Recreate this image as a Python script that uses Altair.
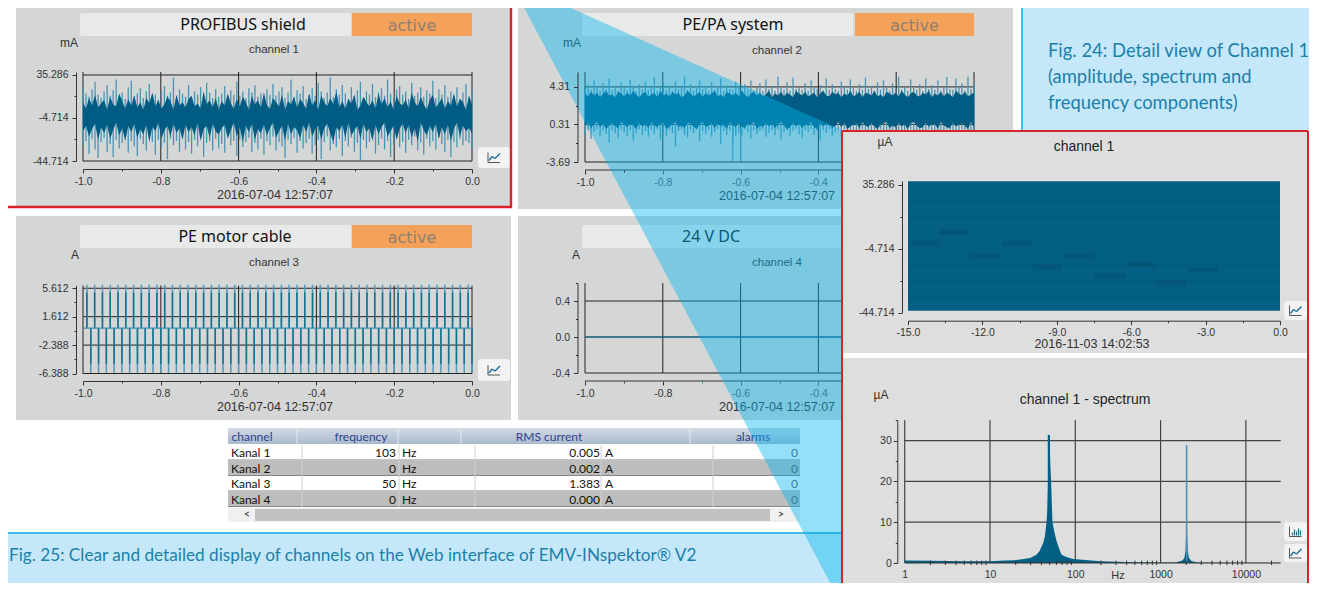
import altair as alt
import pandas as pd

# ---------- values ----------
ch1_hi = [24,18,15,22,29,17,14,20,26,16,21,31,15,19,13,24,30,16,18,23,14,20,27,15,17,12,21,25,16,19,33,14,22,18,15,26,13,20,17,24,16,28,19,14,22,15,18,25,13,21,17,29,16,20,14,23,19,26,15,18,13,22,17,27,16,20,24,14,19,31,15,21,18,25,13,17,23,16,28,20,14,19,33,15,22,17,26,18,13,24,16,21,29,14,20,17,27,15,19,23,16,31,18,14,22,25,17,20,13,28,16,19,24,15,21,18,30,14,22,17,26,15,20,16,24,13,19,27,15,21]
ch1_lo = [-30,-26,-38,-24,-34,-42,-27,-23,-36,-29,-41,-25,-33,-28,-22,-37,-26,-31,-40,-24,-29,-35,-23,-27,-39,-25,-32,-28,-43,-24,-30,-26,-36,-22,-34,-27,-38,-25,-31,-23,-41,-28,-26,-35,-24,-33,-29,-37,-22,-30,-26,-40,-25,-32,-27,-23,-36,-28,-34,-24,-39,-26,-30,-22,-35,-27,-31,-42,-25,-29,-23,-37,-26,-33,-28,-24,-38,-30,-25,-43,-27,-22,-35,-29,-32,-24,-40,-26,-31,-23,-36,-28,-44,-25,-33,-27,-22,-38,-30,-24,-34,-26,-41,-29,-23,-32,-27,-37,-25,-30,-22,-35,-28,-39,-24,-31,-26,-34,-23,-29,-36,-25,-41,-27,-32,-24,-30,-26,-28,-33]
ch1_core_hi = [10,4,14,7,17,5,9,12,3,15,8,6,18,11,4,13,7,16,5,10,3,14,9,19,6,12,4,8,15,11,3,17,7,10,5,13,16,6,9,4,20,8,12,5,14,3,11,7,18,9,4,13,6,15,10,3,16,8,12,5,19,7,4,14,10,6,17,3,11,8,15,5,13,9,4,18,7,12,3,16,10,6,14,8,20,5,11,4,13,9,17,3,7,15,10,6,12,4,18,8,14,5,11,3,16,9,7,13,4,19,10,6,15,8,3,12,17,5,9,14,4,11,7,18,6,13,10,3,16,8]
ch1_core_lo = [-17,-12,-22,-15,-10,-25,-13,-19,-11,-24,-16,-9,-21,-14,-26,-12,-18,-10,-23,-15,-20,-11,-27,-13,-17,-9,-24,-16,-12,-22,-10,-19,-14,-25,-11,-18,-13,-21,-9,-26,-15,-12,-23,-10,-17,-20,-14,-11,-24,-16,-9,-22,-13,-27,-12,-18,-10,-25,-15,-19,-11,-21,-14,-9,-23,-17,-12,-26,-10,-20,-13,-16,-24,-11,-18,-9,-22,-15,-12,-25,-14,-10,-19,-27,-13,-17,-11,-23,-9,-21,-16,-12,-24,-10,-18,-14,-26,-11,-20,-13,-9,-22,-17,-12,-25,-15,-10,-19,-11,-23,-14,-27,-9,-16,-21,-12,-18,-10,-24,-13,-20,-11,-26,-15,-9,-22,-12,-17,-14,-19]

ch2_hi = [4.1,4.6,4.0,5.0,4.2,3.9,4.7,4.1,5.2,4.0,4.4,3.9,4.8,4.2,4.0,5.1,4.3,3.9,4.6,4.1,4.9,4.0,4.3,5.3,3.9,4.2,4.7,4.0,4.5,3.9,4.9,4.1,4.3,5.4,4.0,4.6,3.9,4.2,5.0,4.1,4.4,3.9,4.8,4.0,4.2,5.2,3.9,4.5,4.1,4.0,4.9,4.3,3.9,4.6,4.1,5.0,4.0,4.2,4.7,3.9,5.1,4.1,4.4,3.9,5.4,4.2,4.0,4.8,3.9,5.3,4.1,4.3,4.0,4.7,3.9,5.0,4.2,4.1,4.5,3.9,5.2,4.0,4.6,4.1,3.9,4.9,4.3,4.0,5.1,4.2,3.9,4.6,4.0,5.3,4.1,4.4,3.9,4.8,4.0,5.0,4.2,3.9,4.7,4.1,5.4,4.0,4.3,3.9,5.1,4.2,4.0,4.6,3.9,5.2,4.1,4.5,4.0,5.0,3.9,4.3,5.4,4.1,4.0,5.2,4.2,4.7,3.9,5.4,4.1,4.6]
ch2_lo = [-0.8,-0.3,-1.2,-0.5,-0.2,-1.0,-0.4,-0.7,-1.6,-0.3,-0.6,-1.1,-0.2,-0.5,-0.9,-0.3,-1.4,-0.6,-0.2,-0.8,-0.4,-1.0,-0.3,-0.7,-0.2,-1.3,-0.5,-0.9,-0.3,-0.6,-2.0,-0.4,-0.2,-0.8,-1.1,-0.3,-0.6,-0.2,-1.5,-0.4,-0.7,-0.3,-1.0,-0.5,-0.2,-1.8,-0.4,-0.8,-0.3,-1.6,-0.9,-0.6,-0.9,-0.2,-0.5,-1.2,-0.3,-0.7,-0.4,-0.2,-1.0,-0.6,-0.3,-0.8,-0.2,-1.3,-0.5,-0.3,-0.9,-0.4,-0.2,-0.7,-1.1,-0.3,-0.5,-0.2,-0.8,-0.4,-1.4,-0.3,-0.6,-0.2,-0.9,-0.5,-0.3,-1.0,-0.2,-0.7,-0.4,-0.3,-1.2,-0.5,-0.2,-0.8,-0.3,-0.6,-0.4,-1.1,-0.2,-0.5,-0.3,-0.9,-0.4,-0.2,-0.7,-1.3,-0.3,-0.5,-0.2,-0.8,-0.4,-1.0,-0.3,-0.6,-0.2,-0.5,-0.9,-0.3,-0.4,-1.2,-0.2,-0.6,-0.3,-0.8,-0.4,-0.2,-0.7,-0.3,-1.0,-0.5]
ch2_core_hi = [3.6,3.3,3.8,3.4,3.7,3.2,3.6,3.9,3.4,3.5,3.2,3.8,3.6,3.3,3.7,3.4,3.9,3.5,3.2,3.6,3.8,3.3,3.5,3.7,3.2,3.9,3.4,3.6,3.3,3.8,3.5,3.7,3.2,3.4,3.9,3.6,3.3,3.5,3.8,3.2,3.7,3.4,3.6,3.9,3.3,3.5,3.2,3.8,3.6,3.4,3.7,3.3,3.9,3.5,3.2,3.6,3.8,3.4,3.7,3.3,3.5,3.9,3.2,3.6,3.4,3.8,3.3,3.7,3.5,3.2,3.9,3.6,3.4,3.8,3.3,3.5,3.7,3.2,3.6,3.9,3.4,3.3,3.8,3.5,3.7,3.2,3.6,3.4,3.9,3.3,3.5,3.8,3.2,3.7,3.6,3.4,3.9,3.3,3.5,3.2,3.8,3.6,3.4,3.7,3.3,3.9,3.5,3.2,3.6,3.8,3.4,3.3,3.7,3.5,3.9,3.2,3.6,3.4,3.8,3.3,3.7,3.5,3.2,3.9,3.6,3.4,3.8,3.3,3.5,3.7]
ch2_core_lo = [0.2,0.5,-0.1,0.3,0.6,0.0,0.4,-0.2,0.2,0.5,0.1,-0.1,0.6,0.3,0.0,0.4,0.2,-0.2,0.5,0.1,0.3,-0.1,0.6,0.2,0.0,0.4,0.5,-0.2,0.1,0.3,0.6,0.0,0.2,-0.1,0.5,0.4,0.1,-0.2,0.3,0.6,0.0,0.2,0.5,-0.1,0.4,0.1,0.3,-0.2,0.6,0.2,0.0,0.5,0.1,-0.1,0.4,0.3,0.6,-0.2,0.2,0.0,0.5,0.1,0.4,-0.1,0.3,0.6,0.2,-0.2,0.0,0.5,0.1,0.4,-0.1,0.3,0.2,0.6,0.0,-0.2,0.5,0.1,0.4,0.3,-0.1,0.2,0.6,0.0,0.5,-0.2,0.1,0.3,0.4,-0.1,0.6,0.2,0.0,0.5,0.1,-0.2,0.3,0.4,0.6,-0.1,0.2,0.0,0.5,0.1,0.3,-0.2,0.4,0.6,0.2,-0.1,0.0,0.5,0.1,0.3,0.4,-0.2,0.6,0.2,0.0,-0.1,0.5,0.1,0.3,0.4,0.2,-0.2,0.6,0.0]
ch2_long_t = [-0.62, -0.6]
ch2_long_lo = [-3.6, -3.6]

ch3_up = [-0.99,-0.97,-0.95,-0.93,-0.91,-0.89,-0.87,-0.85,-0.83,-0.81,-0.79,-0.77,-0.75,-0.73,-0.71,-0.69,-0.67,-0.65,-0.63,-0.61,-0.59,-0.57,-0.55,-0.53,-0.51,-0.49,-0.47,-0.45,-0.43,-0.41,-0.39,-0.37,-0.35,-0.33,-0.31,-0.29,-0.27,-0.25,-0.23,-0.21,-0.19,-0.17,-0.15,-0.13,-0.11,-0.09,-0.07,-0.05,-0.03,-0.01]
ch3_down = [-0.98,-0.96,-0.94,-0.92,-0.90,-0.88,-0.86,-0.84,-0.82,-0.80,-0.78,-0.76,-0.74,-0.72,-0.70,-0.68,-0.66,-0.64,-0.62,-0.60,-0.58,-0.56,-0.54,-0.52,-0.50,-0.48,-0.46,-0.44,-0.42,-0.40,-0.38,-0.36,-0.34,-0.32,-0.30,-0.28,-0.26,-0.24,-0.22,-0.20,-0.18,-0.16,-0.14,-0.12,-0.10,-0.08,-0.06,-0.04,-0.02,0.0]

det_start = [-15,-13.72,-12.52,-11.21,-9.96,-8.78,-7.48,-6.2,-5.02,-3.76]
det_end = [-13.75,-12.58,-11.24,-9.99,-8.82,-7.52,-6.23,-5.06,-3.79,-2.51]
det_val = [-1.4,5.7,-9.4,-1.6,-16.3,-9.4,-22,-14.6,-26.2,-18.2]

spec_f = [1,2,5,10,15,20,25,30,35,38,42,44,46,47,48,49,50,51,52,54,57,60,65,69,80,94,120,200,300,500,1000,1500,1800,1900,1960,2000,2020,2040,2080,2150,2300,2600,3000,6000,25600]
spec_a = [0.6,0.55,0.45,0.45,0.6,0.7,0.95,1.3,2.0,2.9,4.9,6.5,10,13,20,26,31.4,24,20,10,7.5,5.5,3.4,2.0,1.4,1.0,0.8,0.45,0.3,0.2,0.12,0.15,0.6,1.2,3,8,28.9,8,3,1.2,0.5,0.2,0.1,0.08,0.05]
spec_minor = [2,3,4,5,6,7,8,9,20,30,40,50,60,70,80,90,200,300,400,500,600,700,800,900,2000,3000,4000,5000,6000,7000,8000,9000,20000]
spec_peak_f = [49, 2020]
spec_peak_a = [31.4, 28.9]

tbl_channel = ["Kanal 1","Kanal 2","Kanal 3","Kanal 4"]
tbl_freq = ["103","0","50","0"]
tbl_rms = ["0.005","0.002","1.383","0.000"]
tbl_alarm = ["0","0","0","0"]

# ---------- helpers ----------
ARIAL = "Liberation Sans"
INK = "#333333"
BLUE = "#005C82"
LIGHT = "#4A94B2"
layers = []
W, H = 1301, 575
OX, OY = 8, 8
RIGHT = OX + W - 1

def rect(x0, y0, x1, y1, color, **kw):
    layers.append(alt.Chart().mark_rect(color=color, **kw).encode(
        x=alt.value(x0-OX), x2=alt.value(x1-OX), y=alt.value(y0-OY), y2=alt.value(y1-OY)))

def seg(x0, y0, x1, y1, color, w=1.0):
    layers.append(alt.Chart().mark_rule(color=color, strokeWidth=w).encode(
        x=alt.value(x0-OX), x2=alt.value(x1-OX), y=alt.value(y0-OY), y2=alt.value(y1-OY)))

def txt(s, x, y, size=12, color=INK, font=ARIAL, align="center", **kw):
    layers.append(alt.Chart().mark_text(text=s, fontSize=size, color=color, font=font, align=align,
                                        baseline="middle", **kw).encode(
        x=alt.value(x-OX), y=alt.value(y-OY)))

def sx(dom, a, b, **kw):
    return alt.Scale(domain=dom, range=[a-OX, b-OX], nice=False, zero=False, **kw)

def sy(dom, bottom, top):
    return alt.Scale(domain=dom, range=[bottom-OY, top-OY], nice=False, zero=False)

def vrules(xs, y0, y1, xsc, ysc, color="#222222", w=1.0, op=1.0):
    d = pd.DataFrame({"x": xs, "y0": [y0]*len(xs), "y1": [y1]*len(xs)})
    layers.append(alt.Chart(d).mark_rule(color=color, strokeWidth=w, opacity=op).encode(
        x=alt.X("x:Q", scale=xsc, axis=None), y=alt.Y("y0:Q", scale=ysc, axis=None), y2="y1:Q"))

def hrules(ys, x0, x1, xsc, ysc, color="#222222", w=1.0, op=1.0):
    d = pd.DataFrame({"y": ys, "x0": [x0]*len(ys), "x1": [x1]*len(ys)})
    layers.append(alt.Chart(d).mark_rule(color=color, strokeWidth=w, opacity=op).encode(
        y=alt.Y("y:Q", scale=ysc, axis=None), x=alt.X("x0:Q", scale=xsc, axis=None), x2="x1:Q"))

def bars(xs, lo, hi, xsc, ysc, color, w):
    d = pd.DataFrame({"x": xs, "lo": lo, "hi": hi})
    layers.append(alt.Chart(d).mark_rule(color=color, strokeWidth=w).encode(
        x=alt.X("x:Q", scale=xsc, axis=None), y=alt.Y("lo:Q", scale=ysc, axis=None), y2="hi:Q"))

def band(xs, lo, hi, xsc, ysc, color):
    d = pd.DataFrame({"x": xs, "lo": lo, "hi": hi})
    layers.append(alt.Chart(d).mark_area(color=color, line=False).encode(
        x=alt.X("x:Q", scale=xsc, axis=None), y=alt.Y("lo:Q", scale=ysc, axis=None), y2="hi:Q"))

def fmt(f):
    return "replace(format(datum.value,'%s'),'\u2212','-')" % f

def axes(xsc, ysc, xv, xmajor, xfmt, yv, ymajor, yfmt, xax_y, yax_x, xtint=None, xdomain=True, size=10.5):
    """x and y axes placed through offsets."""
    xm = "indexof(%s,datum.value)>=0" % [round(v, 6) for v in xmajor]
    ym = "indexof(%s,datum.value)>=0" % [round(v, 6) for v in ymajor]
    lc = alt.expr("datum.value>%s?'#2E7FA0':'%s'" % (xtint, INK)) if xtint is not None else INK
    tc = alt.expr("datum.value>%s?'#2E7FA0':'%s'" % (xtint, INK)) if xtint is not None else INK
    ax = alt.Axis(orient="bottom", offset=xax_y-OY-H, values=xv, title=None, grid=False, domain=xdomain,
                  domainColor=INK, tickColor=tc, tickSize=alt.expr("%s?4:2" % xm), labelPadding=3,
                  labelExpr="%s?%s:''" % (xm, fmt(xfmt)), labelFont=ARIAL, labelFontSize=size,
                  labelColor=lc, labelOverlap=False, labelFlush=False, labelBound=False, zindex=1)
    ay = alt.Axis(orient="left", offset=-(yax_x-OX), values=yv, title=None, grid=False,
                  domainColor=INK, tickColor=INK, tickSize=alt.expr("%s?4:2" % ym), labelPadding=4,
                  labelExpr="%s?%s:''" % (ym, fmt(yfmt)), labelFont=ARIAL, labelFontSize=size,
                  labelColor=INK, labelOverlap=False, labelFlush=False, labelBound=False, zindex=1)
    d = pd.DataFrame({"x": [xsc.domain[0]], "y": [ysc.domain[0]]})
    layers.append(alt.Chart(d).mark_point(opacity=0).encode(
        x=alt.X("x:Q", scale=xsc, axis=ax), y=alt.Y("y:Q", scale=ysc, axis=ay)))

def button(x0, y0, x1, y1, bars_icon=False):
    rect(x0, y0, x1, y1, "#F3F3F3", cornerRadius=3)
    cx, cy = (x0+x1)/2, (y0+y1)/2
    seg(cx-6, cy-5, cx-6, cy+5, "#555555")
    seg(cx-6, cy+5, cx+6, cy+5, "#555555")
    if bars_icon:
        for dx, h in [(-3, 3), (-1, 6), (1, 4), (3, 7), (5, 5)]:
            seg(cx+dx, cy+4, cx+dx, cy+4-h, "#1F6F95", 1.2)
    else:
        seg(cx-5, cy+3, cx-2, cy-1, "#1F6F95", 1.4)
        seg(cx-2, cy-1, cx+1, cy+1, "#1F6F95", 1.4)
        seg(cx+1, cy+1, cx+6, cy-4, "#1F6F95", 1.4)

def header(x0, x1, name, y0, orange_x0=None, orange_x1=None, cx=None):
    rect(x0, y0, x1, y0+23, "#E8E9E9", cornerRadius=2)
    txt(name, cx, y0+12, size=16, color="#111111", font="Noto Sans")
    rect(orange_x0, y0, orange_x1, y0+23, "#F4A259", cornerRadius=1)
    txt("active", (orange_x0+orange_x1)/2, y0+13, size=16, color="#8E7F70", font="DejaVu Sans")

def linspace(a, b, n):
    return [a + (b-a)*i/(n-1) for i in range(n)]

X_MAJ = [-1.0,-0.8,-0.6,-0.4,-0.2,0.0]
X_ALL = [-1.0,-0.9,-0.8,-0.7,-0.6,-0.5,-0.4,-0.3,-0.2,-0.1,0.0]
X_VIS = [-1.0,-0.9,-0.8,-0.7,-0.6,-0.5,-0.4]
DATE1 = "2016-07-04 12:57:07"

# ---------- page ----------
rect(0, 0, 1317, 591, "#C4E8F9")
rect(0, 0, 1021, 532, "#FFFFFF")
seg(0, 533, 1022, 533, "#3EBCEE", 2)
seg(1022, 0, 1022, 533, "#3EBCEE", 2)

# panels
rect(16, 0, 511, 207, "#D5D6D6")
rect(518, 5, 1013, 209, "#D5D6D6")
rect(16, 216, 511, 420, "#D5D6D6")
rect(518, 216, 1013, 420, "#D5D6D6")

# --- channel 1
header(80, 351, "PROFIBUS shield", 13, 352, 472, 243)
txt("mA", 69, 43, 12)
txt("channel 1", 274, 50, 11.5)
txt(DATE1, 275, 195, 12.5)
button(478, 147, 510, 168)
s_x = sx([-1, 0], 83, 472); s_y = sy([-44.714, 38.07], 161, 72)
vrules(X_MAJ, -44.714, 38.07, s_x, s_y)
hrules([35.286, -4.714, -44.714], -1, 0, s_x, s_y)
bars(linspace(-1, 0, len(ch1_hi)), ch1_lo, ch1_hi, s_x, s_y, LIGHT, 1.3)
band(linspace(-1, 0, len(ch1_core_hi)), ch1_core_lo, ch1_core_hi, s_x, s_y, BLUE)
axes(s_x, s_y, X_ALL, X_MAJ, ".1f", [35.286, 15.286, -4.714, -24.714, -44.714], [35.286, -4.714, -44.714], ".3f", 169, 76)

# --- channel 2
header(582, 853, "PE/PA system", 13, 855, 974, 733)
txt("mA", 572, 43, 12)
txt("channel 2", 777, 51, 11.5)
txt(DATE1, 777, 196, 12.5)
s_x = sx([-1, 0], 585, 974); s_y = sy([-3.69, 5.9], 162, 72)
vrules(X_MAJ, -3.69, 5.9, s_x, s_y)
hrules([4.31, 0.31, -3.69], -1, 0, s_x, s_y)
bars(linspace(-1, 0, len(ch2_hi)), ch2_lo, ch2_hi, s_x, s_y, LIGHT, 1.3)
bars(ch2_long_t, ch2_long_lo, [0.0, 0.0], s_x, s_y, LIGHT, 1.2)
band(linspace(-1, 0, len(ch2_core_hi)), ch2_core_lo, ch2_core_hi, s_x, s_y, BLUE)
seg(585, 170, 974, 170, INK)
axes(s_x, s_y, X_VIS, X_MAJ[:4], ".1f", [4.31, 2.31, 0.31, -1.69, -3.69], [4.31, 0.31, -3.69], ".2f", 170, 577.5, xtint=-0.9, xdomain=False)

# --- channel 3
header(80, 351, "PE motor cable", 225, 352, 472, 235)
txt("A", 75, 255, 12)
txt("channel 3", 274, 263, 11.5)
txt(DATE1, 275, 407, 12.5)
button(478, 359, 510, 381)
s_x = sx([-1, 0], 83, 472); s_y = sy([-6.388, 6.0], 373.5, 285.5)
vrules(X_MAJ, -6.388, 6.0, s_x, s_y)
hrules([5.612, 1.612, -2.388, -6.388], -1, 0, s_x, s_y)
bars(ch3_up, [0.0]*50, [6.1]*50, s_x, s_y, "#4D9BB8", 1.5)
bars(ch3_up, [0.0]*50, [5.0]*50, s_x, s_y, "#14708F", 1.5)
bars(ch3_down, [0.0]*50, [-6.3]*50, s_x, s_y, "#4D9BB8", 1.5)
bars(ch3_down, [0.0]*50, [-5.0]*50, s_x, s_y, "#14708F", 1.5)
hrules([0.0], -1, 0, s_x, s_y, color="#3D8FAB", w=1.3)
axes(s_x, s_y, X_ALL, X_MAJ, ".1f", [5.612, 3.612, 1.612, -0.388, -2.388, -4.388, -6.388], [5.612, 1.612, -2.388, -6.388], ".3f", 381, 76)

# --- channel 4
rect(582, 225, 853, 248, "#E8E9E9", cornerRadius=2)
txt("24 V DC", 711, 237, 16, "#111111", "Noto Sans")
txt("A", 576, 255, 12)
txt("channel 4", 777, 263, 11.5)
txt(DATE1, 777, 407, 12.5)
s_x = sx([-1, 0], 585, 974); s_y = sy([-0.4, 0.6], 373, 283)
vrules(X_MAJ, -0.4, 0.6, s_x, s_y)
hrules([0.4, -0.4], -1, 0, s_x, s_y)
hrules([0.0], -1, 0, s_x, s_y, color="#0E5A78", w=1.3)
seg(585, 381, 974, 381, INK)
axes(s_x, s_y, X_VIS, X_MAJ[:4], ".1f", [0.6, 0.4, 0.2, 0.0, -0.2, -0.4], [0.4, 0.0, -0.4], ".1f", 381, 577.5, xtint=-0.72, xdomain=False)

# --- table
TF = "Lato"
HEAD = alt.LinearGradient(gradient="linear", stops=[alt.GradientStop(color="#D3DBE5", offset=0), alt.GradientStop(color="#A9B9CB", offset=1)], x1=0, x2=0, y1=0, y2=1)
rect(228, 428, 800, 444, HEAD)
for hx in [297, 398, 461, 690]:
    seg(hx, 429, hx, 444, "#E3E8EE")
for tx, s in [(252, "channel"), (361, "frequency"), (549, "RMS current"), (753, "alarms")]:
    txt(s, tx, 437, 12, "#2F3F8F", TF)
for i, (c, f, r, a) in enumerate(zip(tbl_channel, tbl_freq, tbl_rms, tbl_alarm)):
    y0 = 445 + i*15.5
    rect(228, y0, 800, y0+15, "#FFFFFF" if i % 2 == 0 else "#BDBDBD")
    seg(228, y0+15, 800, y0+15, "#858585")
    yc = y0 + 8
    txt(c, 231, yc, 12, "#111111", TF, align="left")
    txt(f, 396, yc, 12, "#111111", TF, align="right")
    txt("Hz", 402, yc, 12, "#111111", TF, align="left")
    txt(r, 600, yc, 12, "#111111", TF, align="right")
    txt("A", 605, yc, 12, "#111111", TF, align="left")
    txt(a, 798, yc, 12, "#555555", TF, align="right")
for vx in [302, 399, 475, 601, 713]:
    seg(vx, 445, vx, 507, "#D0D0D0")
rect(228, 508, 800, 522, "#F0F0F0")
rect(255, 509, 770, 521, "#C2C2C2")
txt("<", 247, 515, 11, "#333333", TF)
txt(">", 781, 515, 11, "#333333", TF)

# --- captions
CAP = "#1C7FA8"
txt("Fig. 25: Clear and detailed display of channels on the Web interface of EMV-INspektor® V2", 9, 556, 17.2, CAP, "Lato", align="left")
txt("Fig. 24: Detail view of Channel 1", 1048, 51, 18.4, CAP, "Lato", align="left")
txt("(amplitude, spectrum and", 1048, 77, 18.4, CAP, "Lato", align="left")
txt("frequency components)", 1048, 103, 18.4, CAP, "Lato", align="left")

# --- wedge
wedge = pd.DataFrame({"x": [520, 553, 842], "top": [0, 0, 130], "bottom": [0, 62, 605]})
s_wx = sx([OX, 1317], OX, 1317)
s_wy = alt.Scale(domain=[OY, 591], range=[0, 583], nice=False, zero=False)
layers.append(alt.Chart(wedge).mark_area(color="#00B4F0", opacity=0.42, clip=True).encode(
    x=alt.X("x:Q", scale=s_wx, axis=None), y=alt.Y("top:Q", scale=s_wy, axis=None), y2="bottom:Q"))

# --- inset
rect(842, 132, RIGHT, 591, "#DEDEDE")
rect(843, 353, RIGHT, 358, "#FFFFFF")
seg(842, 131, RIGHT, 131, "#D8232A", 2)
seg(842, 131, 842, 591, "#D8232A", 2)
seg(RIGHT, 131, RIGHT, 591, "#D8232A", 2)
# red frame around panel 1
seg(8, 207, 512, 207, "#D8232A", 2.4)
seg(511, 8, 511, 207, "#D8232A", 2.4)

txt("µA", 885, 142, 12)
txt("channel 1", 1084, 147, 14, "#222222")
txt("2016-11-03 14:02:53", 1092, 344, 12.5)
button(1284, 301, 1307, 320)
s_x = sx([-15, 0], 908, 1280); s_y = sy([-44.714, 37.5], 312.6, 181)
d = pd.DataFrame({"x": [-15], "x2": [0], "y": [-43.6], "y2": [37.3]})
layers.append(alt.Chart(d).mark_rect(color="#045F85").encode(
    x=alt.X("x:Q", scale=s_x, axis=None), x2="x2:Q", y=alt.Y("y:Q", scale=s_y, axis=None), y2="y2:Q"))
d = pd.DataFrame({"x": det_start, "x2": det_end, "y": det_val})
layers.append(alt.Chart(d).mark_rule(color="#04516F", strokeWidth=5, opacity=0.6).encode(
    x=alt.X("x:Q", scale=s_x, axis=None), x2="x2:Q", y=alt.Y("y:Q", scale=s_y, axis=None)))
hrules([25.286, 15.286, 5.286, -14.714, -24.714, -34.714], -15, 0, s_x, s_y, color="#04506F", op=0.3)
axes(s_x, s_y, [-15,-13.5,-12,-10.5,-9,-7.5,-6,-4.5,-3,-1.5,0], [-15,-12,-9,-6,-3,0], ".1f",
     [35.286, 15.286, -4.714, -24.714, -44.714], [35.286, -4.714, -44.714], ".3f", 320.7, 902)

txt("µA", 881, 395, 12)
txt("channel 1 - spectrum", 1085, 400, 14, "#222222")
txt("Hz", 1118, 576, 11)
button(1284, 522, 1307, 541, bars_icon=True)
button(1284, 544, 1307, 562)
s_x = alt.Scale(type="log", domain=[1, 25600], range=[904.7-OX, 1280.7-OX], nice=False)
s_y = sy([0, 35], 563, 420.2)
vrules([1, 10, 100, 1000, 10000], 0, 35, s_x, s_y, color="#444444", w=1.2)
hrules([10, 20, 30], 1, 25600, s_x, s_y, color="#444444", w=1.2)
d = pd.DataFrame({"f": spec_f, "a": spec_a})
layers.append(alt.Chart(d).mark_area(color="#045F85").encode(
    x=alt.X("f:Q", scale=s_x, axis=None), y=alt.Y("a:Q", scale=s_y, axis=None)))
bars(spec_peak_f[:1], [0], spec_peak_a[:1], s_x, s_y, "#045F85", 2.2)
bars(spec_peak_f[1:], [0], spec_peak_a[1:], s_x, s_y, "#4A93B0", 1.6)
d = pd.DataFrame({"f": spec_minor, "a": [-0.5]*len(spec_minor), "b": [0.6]*len(spec_minor)})
layers.append(alt.Chart(d).mark_rule(color="#333333", strokeWidth=1).encode(
    x=alt.X("f:Q", scale=s_x, axis=None), y=alt.Y("a:Q", scale=alt.Scale(domain=[0, 35], range=[563-OY, 420.2-OY], nice=False, zero=False, clamp=False), axis=None), y2="b:Q"))
hrules([0], 1, 25600, s_x, s_y, color="#333333", w=1.2)
ax = alt.Axis(orient="bottom", offset=567-OY-H, values=[1, 10, 100, 1000, 10000], title=None, grid=False, domain=False, ticks=False,
              labelPadding=2, format="d", labelFont=ARIAL, labelFontSize=10.5, labelColor=INK, labelOverlap=False,
              labelFlush=False, labelBound=False, zindex=1)
ay = alt.Axis(orient="left", offset=-(897.3-OX), values=[0, 5, 10, 15, 20, 25, 30, 35], title=None, grid=False,
              domainColor=INK, tickColor=INK, tickSize=alt.expr("datum.value%10==0?4:2"), labelPadding=2,
              labelExpr="datum.value%10==0?format(datum.value,'d'):''", labelFont=ARIAL, labelFontSize=10.5,
              labelColor=INK, labelOverlap=False, labelFlush=False, labelBound=False, zindex=1)
d = pd.DataFrame({"x": [1], "y": [0]})
layers.append(alt.Chart(d).mark_point(opacity=0).encode(
    x=alt.X("x:Q", scale=s_x, axis=ax), y=alt.Y("y:Q", scale=s_y, axis=ay)))

chart = alt.layer(*layers).resolve_scale(x="independent", y="independent").properties(
    width=W, height=H, padding=0, autosize=alt.AutoSizeParams(type="none")
).configure_view(stroke=None)

chart.save("out.html", embed_options={"renderer": "svg", "actions": False})
